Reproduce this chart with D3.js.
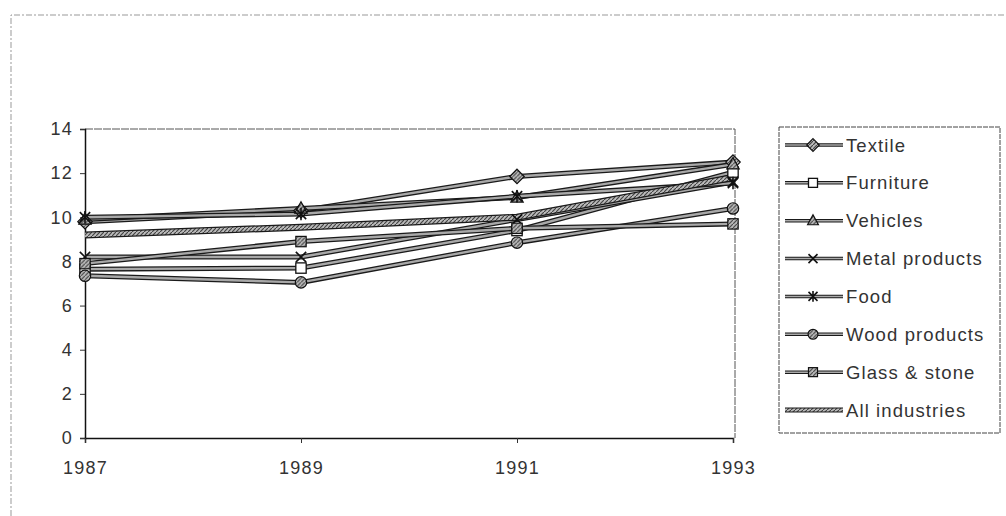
<!DOCTYPE html>
<html>
<head>
<meta charset="utf-8">
<script src="https://cdn.jsdelivr.net/npm/d3@7"></script>
<style>
	html, body { margin: 0; padding: 0; background: #fff; }
	#chart { width: 1006px; height: 516px; }
</style>
</head>
<body>
<div id="chart"></div>
<script>
//data
const years = [1987, 1989, 1991, 1993];
const yTicks = [0, 2, 4, 6, 8, 10, 12, 14];

const textile = [9.8, 10.3, 11.85, 12.5];
const furniture = [7.65, 7.7, 9.4, 12.05];
const vehicles = [9.9, 10.4, 10.9, 12.4];
const metalProducts = [8.2, 8.2, 9.9, 11.6];
const food = [10.0, 10.15, 10.95, 11.55];
const woodProducts = [7.35, 7.05, 8.85, 10.4];
const glassStone = [7.9, 8.9, 9.5, 9.7];
const allIndustries = [9.2, 9.55, 10.0, 11.8];

const seriesNames = ['Textile', 'Furniture', 'Vehicles', 'Metal products', 'Food', 'Wood products', 'Glass & stone', 'All industries'];
const seriesValues = [textile, furniture, vehicles, metalProducts, food, woodProducts, glassStone, allIndustries];
const markerTypes = ['diamond', 'square', 'triangle', 'x', 'star', 'circle', 'hatchSquare', 'none'];

render();

function render() {
	const width = 1006;
	const height = 516;
	const fontFamily = '"Liberation Sans", Arial, sans-serif';

	const svg = d3.select('#chart').append('svg')
		.attr('width', width)
		.attr('height', height);

	const defs = svg.append('defs');
	const hatch = defs.append('pattern')
		.attr('id', 'hatch')
		.attr('patternUnits', 'userSpaceOnUse')
		.attr('width', 4)
		.attr('height', 4);
	hatch.append('rect').attr('width', 4).attr('height', 4).attr('fill', '#bbb');
	hatch.append('path').attr('d', 'M0,4 L4,0').attr('stroke', '#444').attr('stroke-width', 1.2);

	// scanned page border
	svg.append('path')
		.attr('d', `M11,${height} L11,15 L${width},15`)
		.attr('fill', 'none')
		.attr('stroke', '#999')
		.attr('stroke-dasharray', '6,2,2,2');

	const x = d3.scaleLinear().domain([1987, 1993]).range([85, 733]);
	const y = d3.scaleLinear().domain([0, 14]).range([438, 129]);

	// plot area frame (top / right)
	svg.append('path')
		.attr('d', `M${x(1987)},${y(14)} L${x(1993) + 2},${y(14)} L${x(1993) + 2},${y(0)}`)
		.attr('fill', 'none')
		.attr('stroke', '#555')
		.attr('stroke-dasharray', '8,1');

	// axes
	const yAxis = svg.append('g')
		.attr('transform', `translate(${x(1987)},0)`)
		.call(d3.axisLeft(y).tickValues(yTicks).tickSize(5).tickPadding(7).tickFormat(d3.format('d')));
	const xAxis = svg.append('g')
		.attr('transform', `translate(0,${y(0)})`)
		.call(d3.axisBottom(x).tickValues(years).tickSize(5).tickPadding(18).tickFormat(d3.format('d')));

	[yAxis, xAxis].forEach((g) => {
		g.select('.domain').attr('stroke', '#111').attr('stroke-width', 1.5);
		g.selectAll('.tick line').attr('stroke', '#333');
		g.selectAll('text')
			.attr('font-family', fontFamily)
			.attr('font-size', 18)
			.attr('letter-spacing', 1.2)
			.attr('fill', '#333');
	});

	const line = d3.line()
		.x((d, i) => x(years[i]))
		.y((d) => y(d));

	// lines
	const lines = svg.append('g');
	seriesValues.forEach((vals, i) => {
		const thick = markerTypes[i] === 'none';
		lines.append('path')
			.attr('d', line(vals))
			.attr('fill', 'none')
			.attr('stroke', '#1a1a1a')
			.attr('stroke-width', thick ? 7 : 5);
		lines.append('path')
			.attr('d', line(vals))
			.attr('fill', 'none')
			.attr('stroke', thick ? 'url(#hatch)' : '#a8a8a8')
			.attr('stroke-width', thick ? 4.5 : 2.4);
	});

	// markers
	const markers = svg.append('g');
	seriesValues.forEach((vals, i) => {
		vals.forEach((v, j) => {
			drawMarker(markers, markerTypes[i], x(years[j]), y(v), 1.15);
		});
	});

	// legend
	const legend = svg.append('g').attr('transform', 'translate(779,127)');
	legend.append('rect')
		.attr('width', 221)
		.attr('height', 306)
		.attr('fill', '#fff')
		.attr('stroke', '#444')
		.attr('stroke-dasharray', '5,1');

	const rowY = d3.scaleLinear().domain([0, 7]).range([18, 283]);
	seriesNames.forEach((name, i) => {
		const row = legend.append('g').attr('transform', `translate(0,${rowY(i)})`);
		const thick = markerTypes[i] === 'none';
		row.append('line')
			.attr('x1', 6).attr('x2', 64)
			.attr('stroke', '#1a1a1a')
			.attr('stroke-width', thick ? 5 : 3.5);
		row.append('line')
			.attr('x1', 6).attr('x2', 64)
			.attr('stroke', thick ? 'url(#hatch)' : '#aaa')
			.attr('stroke-width', thick ? 3 : 1.5);
		drawMarker(row, markerTypes[i], 34, 0, 1);
		row.append('text')
			.attr('x', 67)
			.attr('y', 0)
			.attr('dominant-baseline', 'central')
			.attr('font-family', fontFamily)
			.attr('font-size', 18.5)
			.attr('letter-spacing', 1.1)
			.attr('fill', '#333')
			.text(name);
	});
}

function drawMarker(g, type, cx, cy, k) {
	const s = 9 * k;
	const m = g.append('g').attr('transform', `translate(${cx},${cy})`);
	if (type === 'diamond') {
		m.append('path').attr('d', `M0,${-s * 0.7}L${s * 0.7},0L0,${s * 0.7}L${-s * 0.7},0Z`)
			.attr('fill', 'url(#hatch)').attr('stroke', '#111').attr('stroke-width', 1.2);
	} else if (type === 'square') {
		m.append('rect').attr('x', -s / 2).attr('y', -s / 2).attr('width', s).attr('height', s)
			.attr('fill', '#fff').attr('stroke', '#111').attr('stroke-width', 1.3);
	} else if (type === 'triangle') {
		m.append('path').attr('d', `M0,${-s * 0.65}L${s * 0.6},${s * 0.45}L${-s * 0.6},${s * 0.45}Z`)
			.attr('fill', 'url(#hatch)').attr('stroke', '#111').attr('stroke-width', 1.2);
	} else if (type === 'x') {
		m.append('path').attr('d', `M${-s / 2},${-s / 2}L${s / 2},${s / 2}M${s / 2},${-s / 2}L${-s / 2},${s / 2}`)
			.attr('stroke', '#111').attr('stroke-width', 1.6);
	} else if (type === 'star') {
		m.append('path').attr('d', `M${-s / 2},${-s / 2}L${s / 2},${s / 2}M${s / 2},${-s / 2}L${-s / 2},${s / 2}M0,${-s * 0.6}L0,${s * 0.6}`)
			.attr('stroke', '#111').attr('stroke-width', 1.6);
	} else if (type === 'circle') {
		m.append('circle').attr('r', s * 0.55)
			.attr('fill', 'url(#hatch)').attr('stroke', '#111').attr('stroke-width', 1.2);
	} else if (type === 'hatchSquare') {
		m.append('rect').attr('x', -s / 2).attr('y', -s / 2).attr('width', s).attr('height', s)
			.attr('fill', 'url(#hatch)').attr('stroke', '#111').attr('stroke-width', 1.2);
	}
}
</script>
</body>
</html>
